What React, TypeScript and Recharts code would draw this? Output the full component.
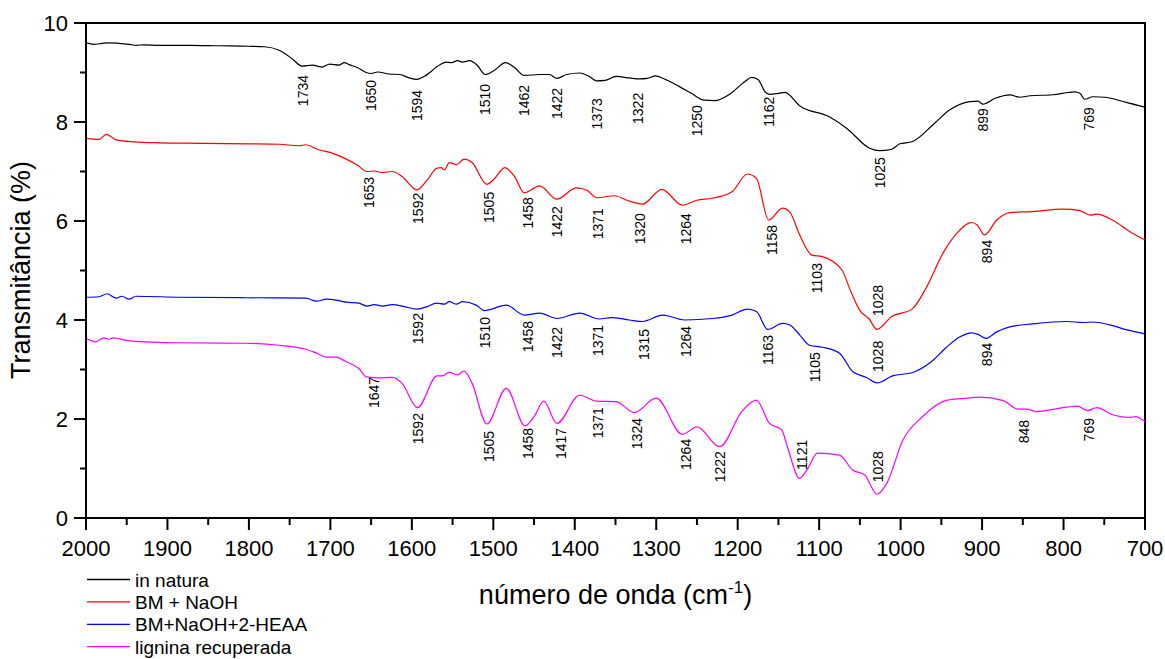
import React from "react";
import {
  ComposedChart,
  Line,
  XAxis,
  YAxis,
  ReferenceArea,
  ReferenceDot,
} from "recharts";

const FONT = '"Liberation Sans", Arial, Helvetica, sans-serif';

// FTIR spectra: [wavenumber (cm-1), transmittance (%)]
const inNatura: [number, number][] = [
  [2000, 9.6], [1990, 9.57], [1980, 9.59], [1972, 9.6], [1960, 9.59], [1947, 9.57],
  [1938, 9.55], [1929, 9.56], [1910, 9.55], [1873, 9.55], [1837, 9.54], [1800, 9.53],
  [1781, 9.52], [1763, 9.45], [1747, 9.28], [1735, 9.13], [1722, 9.15], [1710, 9.11],
  [1701, 9.17], [1689, 9.15], [1683, 9.2], [1677, 9.16], [1667, 9.1], [1656, 9.0],
  [1650, 8.98], [1642, 9.01], [1628, 8.97], [1615, 8.96], [1603, 8.89], [1594, 8.86],
  [1585, 8.92], [1566, 9.15], [1558, 9.21], [1551, 9.2], [1544, 9.24], [1538, 9.21],
  [1529, 9.24], [1520, 9.15], [1510, 8.96], [1499, 9.04], [1485, 9.2], [1474, 9.1],
  [1462, 8.94], [1443, 8.96], [1431, 8.96], [1422, 8.88], [1410, 8.96], [1394, 8.99],
  [1382, 8.92], [1373, 8.83], [1363, 8.84], [1349, 8.92], [1333, 8.89], [1320, 8.87],
  [1311, 8.88], [1301, 8.93], [1290, 8.87], [1271, 8.71], [1257, 8.58], [1241, 8.44],
  [1228, 8.43], [1210, 8.56], [1191, 8.82], [1183, 8.9], [1175, 8.86], [1166, 8.6],
  [1161, 8.56], [1150, 8.58], [1142, 8.6], [1124, 8.33], [1087, 8.1], [1066, 7.87],
  [1038, 7.47], [1026, 7.42], [1011, 7.45], [1001, 7.56], [986, 7.6], [958, 7.98],
  [940, 8.24], [915, 8.41], [905, 8.42], [899, 8.36], [884, 8.48], [866, 8.55],
  [854, 8.5], [841, 8.53], [813, 8.55], [786, 8.61], [780, 8.58], [774, 8.46],
  [764, 8.51], [749, 8.5], [737, 8.46], [724, 8.4], [700, 8.3],
];

const bmNaOH: [number, number][] = [
  [2000, 7.67], [1984, 7.65], [1975, 7.75], [1963, 7.64], [1941, 7.6], [1910, 7.58],
  [1861, 7.57], [1800, 7.56], [1763, 7.55], [1738, 7.52], [1730, 7.54], [1716, 7.45],
  [1698, 7.37], [1683, 7.27], [1667, 7.13], [1655, 7.0], [1646, 7.01], [1637, 6.98],
  [1624, 7.0], [1612, 6.9], [1594, 6.63], [1581, 6.83], [1570, 7.06], [1564, 7.08],
  [1560, 7.03], [1554, 7.18], [1545, 7.14], [1536, 7.25], [1526, 7.18], [1508, 6.74],
  [1499, 6.85], [1486, 7.08], [1474, 6.9], [1462, 6.57], [1443, 6.71], [1422, 6.44],
  [1398, 6.67], [1385, 6.62], [1373, 6.47], [1351, 6.51], [1336, 6.42], [1317, 6.34],
  [1293, 6.64], [1268, 6.32], [1250, 6.42], [1231, 6.46], [1207, 6.59], [1188, 6.95],
  [1177, 6.86], [1162, 6.02], [1145, 6.26], [1136, 6.18], [1124, 5.72], [1109, 5.31],
  [1096, 5.28], [1072, 5.01], [1062, 4.61], [1050, 4.19], [1039, 4.03], [1029, 3.81],
  [1011, 4.07], [986, 4.22], [968, 4.67], [948, 5.35], [931, 5.75], [913, 5.97],
  [906, 5.92], [897, 5.72], [882, 6.02], [866, 6.17], [838, 6.19], [801, 6.24],
  [780, 6.21], [767, 6.12], [759, 6.14], [739, 6.01], [718, 5.78], [700, 5.62],
];

const bmNaOHHeaa: [number, number][] = [
  [2000, 4.46], [1984, 4.47], [1974, 4.53], [1963, 4.44], [1956, 4.48], [1947, 4.42],
  [1939, 4.48], [1886, 4.46], [1803, 4.45], [1730, 4.44], [1717, 4.38], [1705, 4.42],
  [1693, 4.4], [1681, 4.36], [1665, 4.34], [1655, 4.28], [1646, 4.31], [1636, 4.28],
  [1624, 4.31], [1609, 4.27], [1594, 4.22], [1581, 4.27], [1570, 4.34], [1560, 4.32],
  [1554, 4.37], [1545, 4.32], [1538, 4.37], [1521, 4.3], [1511, 4.19], [1484, 4.3],
  [1462, 4.1], [1443, 4.14], [1422, 4.03], [1394, 4.14], [1370, 4.02], [1355, 4.05],
  [1333, 4.0], [1317, 3.97], [1292, 4.1], [1265, 4.0], [1231, 4.03], [1207, 4.1],
  [1188, 4.22], [1177, 4.17], [1163, 3.81], [1145, 3.93], [1136, 3.9], [1124, 3.7],
  [1112, 3.49], [1096, 3.45], [1075, 3.33], [1059, 2.96], [1042, 2.84], [1029, 2.73],
  [1010, 2.87], [985, 2.94], [962, 3.16], [943, 3.46], [927, 3.66], [913, 3.74],
  [905, 3.71], [895, 3.63], [882, 3.76], [866, 3.86], [838, 3.92], [796, 3.97],
  [776, 3.95], [764, 3.96], [743, 3.9], [722, 3.8], [700, 3.72],
];

const ligninaRecuperada: [number, number][] = [
  [2000, 3.63], [1988, 3.56], [1978, 3.64], [1972, 3.61], [1966, 3.64], [1947, 3.58],
  [1886, 3.54], [1803, 3.53], [1763, 3.49], [1730, 3.41], [1717, 3.33], [1705, 3.25],
  [1693, 3.25], [1681, 3.16], [1665, 3.02], [1656, 2.85], [1640, 2.83], [1624, 2.84],
  [1612, 2.72], [1593, 2.23], [1569, 2.87], [1563, 2.87], [1554, 2.94], [1544, 2.89],
  [1536, 2.97], [1526, 2.72], [1508, 1.9], [1484, 2.62], [1461, 1.86], [1450, 2.05],
  [1438, 2.36], [1422, 1.91], [1394, 2.48], [1373, 2.36], [1349, 2.35], [1327, 2.13],
  [1300, 2.42], [1268, 1.69], [1250, 1.84], [1222, 1.44], [1195, 2.15], [1177, 2.38],
  [1161, 1.91], [1146, 1.78], [1139, 1.44], [1124, 0.8], [1115, 0.97], [1102, 1.31],
  [1075, 1.27], [1059, 0.97], [1044, 0.87], [1029, 0.48], [1017, 0.7], [997, 1.58],
  [973, 2.05], [943, 2.38], [919, 2.42], [903, 2.44], [874, 2.37], [856, 2.2],
  [845, 2.2], [833, 2.15], [796, 2.24], [783, 2.26], [771, 2.17], [759, 2.23],
  [739, 2.08], [718, 2.03], [712, 2.05], [700, 1.95],
];

// band labels: [wavenumber, transmittance at the top of the label]
const inNaturaBands: [number, number][] = [
  [1734, 8.95], [1650, 8.85], [1594, 8.65], [1510, 8.77], [1462, 8.75], [1422, 8.69],
  [1373, 8.48], [1322, 8.59], [1250, 8.34], [1162, 8.51], [1025, 7.29], [899, 8.28],
  [769, 8.3],
];
const bmNaOHBands: [number, number][] = [
  [1653, 6.89], [1592, 6.57], [1505, 6.59], [1458, 6.48], [1422, 6.3], [1371, 6.26],
  [1320, 6.16], [1264, 6.16], [1158, 5.92], [1103, 5.15], [1028, 4.71], [894, 5.62],
];
const bmNaOHHeaaBands: [number, number][] = [
  [1592, 4.14], [1510, 4.06], [1458, 3.98], [1422, 3.86], [1371, 3.9], [1315, 3.82],
  [1264, 3.88], [1163, 3.7], [1105, 3.35], [1028, 3.58], [894, 3.54],
];
const ligninaBands: [number, number][] = [
  [1647, 2.85], [1592, 2.12], [1505, 1.76], [1458, 1.82], [1417, 1.82], [1371, 2.24],
  [1324, 2.02], [1264, 1.6], [1222, 1.35], [1121, 1.58], [1028, 1.35], [848, 1.98],
  [769, 2.02],
];

const xTicks = [
  2000, 1950, 1900, 1850, 1800, 1750, 1700, 1650, 1600, 1550, 1500, 1450, 1400,
  1350, 1300, 1250, 1200, 1150, 1100, 1050, 1000, 950, 900, 850, 800, 750, 700,
];
const yTicks = [0, 1, 2, 3, 4, 5, 6, 7, 8, 9, 10];

const series = [
  { name: "in natura", color: "#000000", points: inNatura, bands: inNaturaBands },
  { name: "BM + NaOH", color: "#ff0000", points: bmNaOH, bands: bmNaOHBands },
  { name: "BM+NaOH+2-HEAA", color: "#0000ff", points: bmNaOHHeaa, bands: bmNaOHHeaaBands },
  { name: "lignina recuperada", color: "#ff00ff", points: ligninaRecuperada, bands: ligninaBands },
];

const toRows = (pts: [number, number][]) => pts.map(([wn, t]) => ({ wn, t }));

const XTick = (props: any) => {
  const { x, y, payload } = props;
  const major = payload.value % 100 === 0;
  return (
    <g>
      <line x1={x} x2={x} y1={y} y2={y + (major ? 12 : 7)} stroke="#000" strokeWidth={2} />
      {major && (
        <text x={x} y={y + 38} textAnchor="middle" fontSize={22} fontFamily={FONT} fill="#000">
          {payload.value}
        </text>
      )}
    </g>
  );
};

const YTick = (props: any) => {
  const { x, y, payload } = props;
  const major = payload.value % 2 === 0;
  return (
    <g>
      <line x1={x - (major ? 12 : 6)} x2={x} y1={y} y2={y} stroke="#000" strokeWidth={2} />
      {major && (
        <text x={x - 18} y={y + 8} textAnchor="end" fontSize={22} fontFamily={FONT} fill="#000">
          {payload.value}
        </text>
      )}
    </g>
  );
};

// vertical text hanging down from the anchor point
const bandLabel = (text: string) => (props: any) => {
  const px = props.cx + 5;
  const py = props.cy;
  return (
    <text
      x={px}
      y={py}
      transform={`rotate(-90 ${px} ${py})`}
      textAnchor="end"
      fontSize={14}
      fontFamily={FONT}
      fill="#000"
    >
      {text}
    </text>
  );
};

const XTitle = (props: any) => {
  const { x, width } = props.viewBox;
  return (
    <text x={x + width / 2} y={604} textAnchor="middle" fontSize={27} fontFamily={FONT} fill="#000">
      número de onda (cm
      <tspan fontSize={17} dy={-11}>-1</tspan>
      <tspan dy={11}>)</tspan>
    </text>
  );
};

const YTitle = () => (
  <text
    x={29.5}
    y={270}
    transform="rotate(-90 29.5 270)"
    textAnchor="middle"
    fontSize={27}
    fontFamily={FONT}
    fill="#000"
  >
    Transmitância (%)
  </text>
);

const SeriesLegend = () => (
  <svg
    width={400}
    height={99}
    style={{ position: "absolute", left: 0, top: 560 }}
  >
    {series.map((s, i) => {
      const y = 19.5 + i * 22.4;
      return (
        <g key={s.name}>
          <line x1={87} x2={130} y1={y} y2={y} stroke={s.color} strokeWidth={1.3} />
          <text x={135} y={y + 7} fontSize={19} fontFamily={FONT} fill="#000">
            {s.name}
          </text>
        </g>
      );
    })}
  </svg>
);

export default function App() {
  return (
    <div style={{ position: "absolute", left: 0, top: 0, width: 1165, height: 659, background: "#fff" }}>
      <ComposedChart
        width={1165}
        height={659}
        margin={{ top: 23, right: 20, left: 26, bottom: 101 }}
      >
        <XAxis
          dataKey="wn"
          type="number"
          domain={[700, 2000]}
          reversed
          ticks={xTicks}
          interval={0}
          tick={<XTick />}
          tickLine={false}
          tickSize={0}
          tickMargin={0}
          height={40}
          axisLine={{ stroke: "#000", strokeWidth: 2 }}
          allowDataOverflow
          label={<XTitle />}
        />
        <YAxis
          type="number"
          domain={[0, 10]}
          ticks={yTicks}
          interval={0}
          tick={<YTick />}
          tickLine={false}
          tickSize={0}
          tickMargin={0}
          width={60}
          axisLine={{ stroke: "#000", strokeWidth: 2 }}
          allowDataOverflow
          label={<YTitle />}
        />
        <ReferenceArea
          x1={700}
          x2={2000}
          y1={0}
          y2={10}
          fill="none"
          fillOpacity={0}
          stroke="#000"
          strokeWidth={2}
          ifOverflow="visible"
        />
        {series.map((s) => (
          <Line
            key={s.name}
            name={s.name}
            data={toRows(s.points)}
            dataKey="t"
            type="monotone"
            stroke={s.color}
            strokeWidth={1.2}
            dot={false}
            activeDot={false}
            isAnimationActive={false}
          />
        ))}
        {series.flatMap((s) =>
          s.bands.map(([wn, t]) => (
            <ReferenceDot
              key={`${s.name}-${wn}`}
              x={wn}
              y={t}
              r={0}
              ifOverflow="visible"
              shape={bandLabel(String(wn))}
            />
          ))
        )}
      </ComposedChart>
      <SeriesLegend />
    </div>
  );
}
